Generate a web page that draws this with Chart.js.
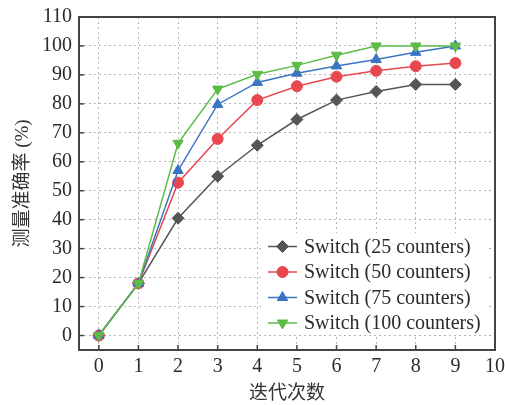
<!DOCTYPE html>
<html><head><meta charset="utf-8">
<script src="https://cdn.jsdelivr.net/npm/chart.js@4/dist/chart.umd.min.js"></script>
<style>html,body{margin:0;padding:0;background:#fff}#wrap{width:505px;height:405px}</style>
</head><body><div id="wrap"><canvas id="c" width="505" height="405"></canvas></div>
<script>
const iterations = [0,1,2,3,4,5,6,7,8,9];
const xTicks = [0,1,2,3,4,5,6,7,8,9,10];
const yTicks = [0,10,20,30,40,50,60,70,80,90,100,110];
const seriesNames = ['Switch (25 counters)','Switch (50 counters)','Switch (75 counters)','Switch (100 counters)'];
const acc25  = [0,18,40.5,55,65.7,74.6,81.3,84.3,86.7,86.7];
const acc50  = [0,18,52.8,67.9,81.3,86.1,89.4,91.4,93,94.1];
const acc75  = [0,18,57,79.8,87.4,90.6,93.1,95.3,97.8,100];
const acc100 = [0,18,66.4,85.1,90.2,93.3,96.8,100,100,100];

const colors = ['#555555','#e8474f','#3b74c2','#5dbb48'];
const styles = ['rectRot','circle','triangle','triangle'];
const rotations = [0,0,0,180];
const radii = [6,5.5,6,6];
const allSeries = [acc25,acc50,acc75,acc100];
const FONT = '"Liberation Serif","Times New Roman",serif';
const CJK = '"Liberation Serif","Noto Sans CJK SC",serif';

const datasets = allSeries.map((s,i)=>({
  label: seriesNames[i],
  data: iterations.map((x,j)=>({x:x,y:s[j]})),
  borderColor: colors[i], backgroundColor: colors[i],
  borderWidth: 1.5, pointStyle: styles[i], pointRotation: rotations[i],
  pointRadius: radii[i], pointBorderWidth: 1, pointBorderColor: colors[i], pointBackgroundColor: colors[i],
  order: 3-i, tension: 0
}));

const frame = {
  id:'frame',
  afterDraw(chart){
    const {ctx, chartArea:a, scales} = chart;
    ctx.save();
    // legend
    ctx.fillStyle = '#fff';
    ctx.fillRect(264, 233, 224, 102);
    const rows = [246.5, 272, 297.5, 323];
    ctx.font = '20px ' + FONT;
    ctx.textBaseline = 'middle'; ctx.textAlign = 'left';
    rows.forEach((y,i)=>{
      ctx.strokeStyle = colors[i]; ctx.lineWidth = 1.5;
      ctx.beginPath(); ctx.moveTo(268,y); ctx.lineTo(297,y); ctx.stroke();
      drawMarker(ctx, styles[i], rotations[i], radii[i], 282.5, y, colors[i]);
      ctx.fillStyle = '#2b2b2b';
      ctx.fillText(seriesNames[i], 304, y+1);
    });
    // inward ticks
    ctx.strokeStyle = '#444'; ctx.lineWidth = 1.5;
    xTicks.forEach(v=>{ const px = scales.x.getPixelForValue(v); ctx.beginPath(); ctx.moveTo(px,a.bottom); ctx.lineTo(px,a.bottom-5); ctx.stroke(); });
    yTicks.forEach(v=>{ const py = scales.y.getPixelForValue(v); ctx.beginPath(); ctx.moveTo(a.left,py); ctx.lineTo(a.left+5,py); ctx.stroke(); });
    // frame
    ctx.strokeStyle = '#444'; ctx.lineWidth = 2;
    ctx.strokeRect(a.left, a.top, a.right-a.left, a.bottom-a.top);
    ctx.restore();
  }
};
function drawMarker(ctx, style, rot, r, x, y, c){
  ctx.save(); ctx.fillStyle = c; ctx.strokeStyle = c; ctx.lineWidth = 1;
  ctx.translate(x,y); ctx.rotate(rot*Math.PI/180);
  ctx.beginPath();
  if(style==='circle'){ ctx.arc(0,0,r,0,Math.PI*2); }
  else if(style==='rectRot'){ ctx.moveTo(0,-r); ctx.lineTo(r,0); ctx.lineTo(0,r); ctx.lineTo(-r,0); ctx.closePath(); }
  else { ctx.moveTo(0,-r); ctx.lineTo(r*0.866, r*0.5); ctx.lineTo(-r*0.866, r*0.5); ctx.closePath(); }
  ctx.fill(); ctx.stroke(); ctx.restore();
}

new Chart(document.getElementById('c'), {
  type: 'line',
  data: { datasets },
  options: {
    responsive: false, animation: false, devicePixelRatio: 1,
    layout: { padding: { top: 17, right: 10, left: 0, bottom: 0 } },
    plugins: { legend: { display: false }, tooltip: { enabled: false } },
    scales: {
      x: {
        type: 'linear', min: -0.5, max: 10,
        afterBuildTicks: s => { s.ticks = xTicks.map(v=>({value:v})); },
        afterFit: s => { s.height = 55; s.paddingRight = 0; s.paddingLeft = 0; },
        grid: { color: ctx => (ctx.tick && ctx.tick.value===10) ? 'rgba(0,0,0,0)' : '#b5b5b5', lineWidth: 1, drawTicks: false },
        border: { display: false, dash: [2,3] },
        ticks: { color: '#2b2b2b', font: { family: FONT, size: 20 }, padding: 5, maxRotation: 0 },
        title: { display: true, text: '迭代次数', color: '#333', font: { family: CJK, size: 19 }, padding: { top: 0, bottom: 0 } }
      },
      y: {
        type: 'linear', min: -5, max: 110,
        afterBuildTicks: s => { s.ticks = yTicks.map(v=>({value:v})); },
        afterFit: s => { s.width = 79; s.paddingTop = 0; s.paddingBottom = 0; },
        grid: { color: ctx => (ctx.tick && ctx.tick.value===110) ? 'rgba(0,0,0,0)' : '#b5b5b5', lineWidth: 1, drawTicks: false },
        border: { display: false, dash: [2,3] },
        ticks: { color: '#2b2b2b', font: { family: FONT, size: 20 }, padding: 7 },
        title: { display: true, text: '测量准确率 (%)', color: '#333', font: { family: CJK, size: 19 }, padding: { top: 12, bottom: 4 } }
      }
    }
  },
  plugins: [frame]
});
</script>
</body></html>
